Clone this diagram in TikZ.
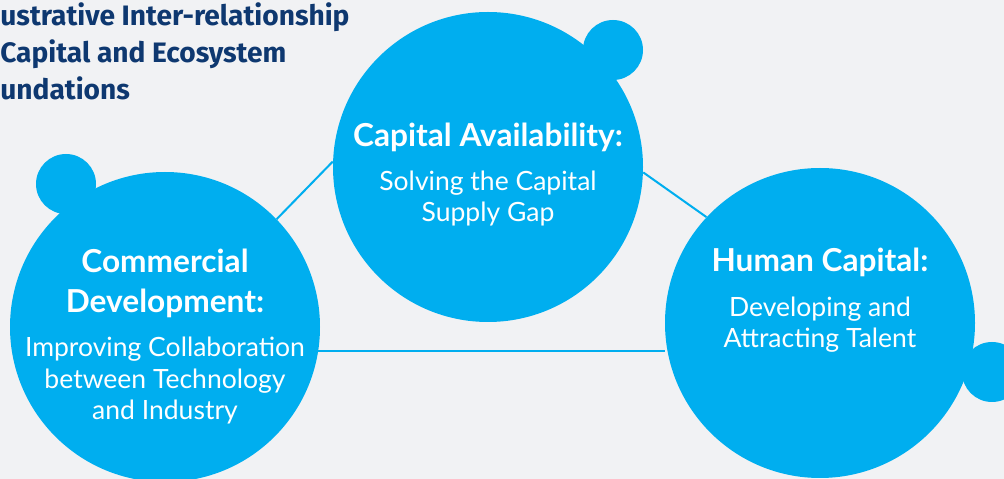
\documentclass[tikz,border=0pt]{standalone}
\usepackage{fontspec}
\setmainfont{Lato}
\newfontfamily\titlefont{Fira Sans}
\usetikzlibrary{positioning}
\definecolor{mycyan}{RGB}{0,174,239}
\definecolor{mynavy}{RGB}{14,56,112}
\definecolor{mygrey}{RGB}{241,242,244}

\begin{document}
\begin{tikzpicture}[
  blob/.style={circle,fill=mycyan,minimum size=6.2cm,inner sep=0pt},
  bump/.style={circle,fill=mycyan,minimum size=1.2cm,inner sep=0pt},
  link/.style={mycyan,line width=1.15pt},
  head/.style={text=white,align=center,anchor=base,inner sep=0pt,
               font=\fontsize{18}{23.3}\selectfont\bfseries},
  body/.style={text=white,align=center,anchor=base,inner sep=0pt,
               font=\fontsize{15.1}{18.2}\selectfont},
  ttl/.style={text=mynavy,anchor=base west,inner sep=0pt,
              font=\titlefont\fontsize{16}{21}\selectfont\bfseries}]
\useasboundingbox (0,0) rectangle (20.08,9.58);
\fill[mygrey] (0,0) rectangle (20.08,9.58);
\clip (0,0) rectangle (20.08,9.58);

\node[ttl] (t1) at (0,9.06) {ustrative Inter-relationship};
\node[ttl] (t2) at (0,8.32) {Capital and Ecosystem};
\node[ttl] (t3) at (0,7.58) {undations};

\node[bump] (b1) at (1.32,5.90) {};
\node[bump] (b2) at (12.26,8.58) {};
\node[bump] (b3) at (19.84,2.14) {};

\node[blob] (comm) at (3.30,3.04) {};
\node[blob] (cap) at (9.76,6.24) {};
\node[blob] (hum) at (16.40,3.12) {};

\draw[link] (comm.44) -- (cap.178);
\draw[link] (cap.-2) -- (hum.137);
\draw[link] (comm.-9.66) -- (comm.-9.66 -| hum.west);

\node[head] (caphead) at (9.76,6.64) {Capital Availability:};
\node[body] (captext) at (9.76,5.14) {Solving the Capital\\Supply Gap};
\node[head] (commhead) at (3.30,3.32) {Commercial\\Development:};
\node[body] (commtext) at (3.30,1.18) {Improving Collaboration\\between Technology\\and Industry};
\node[head] (humhead) at (16.40,4.14) {Human Capital:};
\node[body] (humtext) at (16.40,2.62) {Developing and\\Attracting Talent};
\end{tikzpicture}
\end{document}
